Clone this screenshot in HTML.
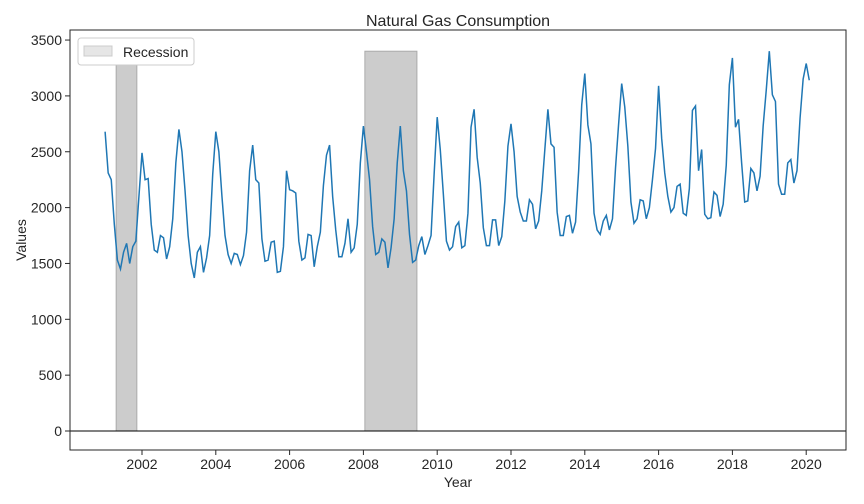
<!DOCTYPE html>
<html><head><meta charset="utf-8"><style>
body{margin:0;background:#fff;}
svg{display:block;font-family:"Liberation Sans",sans-serif;}
</style></head><body>
<svg id="chart" width="864" height="504"></svg>
<script>
const years=[2002,2004,2006,2008,2010,2012,2014,2016,2018,2020];
const yTicks=[0,500,1000,1500,2000,2500,3000,3500];
const startYear=2001;
const recessions=[[2001.30,2001.86],[2008.04,2009.45]];
const recessionTop=3400;
const values=[
2680,2310,2250,1850,1530,1450,1600,1680,1500,1650,1700,2100,
2490,2250,2260,1850,1620,1600,1750,1730,1540,1650,1900,2400,
2700,2500,2150,1750,1500,1370,1600,1650,1420,1550,1750,2300,
2680,2500,2100,1750,1580,1500,1590,1580,1490,1570,1780,2330,
2560,2250,2220,1720,1520,1530,1690,1700,1420,1430,1650,2330,
2160,2150,2130,1700,1530,1550,1760,1750,1470,1650,1780,2200,
2470,2560,2100,1800,1560,1560,1680,1900,1600,1640,1850,2400,
2730,2500,2250,1830,1580,1600,1720,1690,1460,1640,1900,2400,
2730,2330,2150,1760,1510,1530,1660,1740,1580,1660,1750,2300,
2810,2520,2120,1700,1620,1650,1830,1870,1640,1660,1950,2720,
2880,2450,2220,1820,1660,1660,1890,1890,1660,1740,2060,2550,
2750,2500,2100,1960,1880,1880,2070,2030,1810,1880,2150,2520,
2880,2570,2540,1960,1750,1750,1920,1930,1770,1870,2330,2920,
3200,2740,2570,1950,1800,1760,1880,1930,1800,1900,2360,2750,
3110,2900,2550,2050,1860,1900,2070,2060,1900,2000,2250,2530,
3090,2620,2310,2100,1960,2000,2190,2210,1950,1930,2170,2870,
2910,2330,2520,1940,1900,1910,2140,2110,1920,2030,2380,3100,
3340,2720,2790,2400,2050,2060,2350,2310,2150,2280,2730,3050,
3400,3010,2950,2210,2120,2120,2400,2430,2220,2330,2800,3150,
3290,3140];
const L=70,R=846,T=30,B=450;
const x=t=>105.1+(t-2001)*36.9;
const y=v=>431-v*0.1117;
const NS="http://www.w3.org/2000/svg";
const svg=document.getElementById('chart');
function mk(tag,attrs,parent){const e=document.createElementNS(NS,tag);for(const k in attrs)e.setAttribute(k,attrs[k]);(parent||svg).appendChild(e);return e;}
recessions.forEach(r=>{
const e=mk('rect',{x:x(r[0]),y:y(recessionTop),width:x(r[1])-x(r[0]),height:y(0)-y(recessionTop),fill:'#cccccc',stroke:'#aaaaaa','stroke-width':1});


});
const z=mk('line',{x1:L,x2:R,y1:y(0),y2:y(0),stroke:'#000','stroke-width':1});


const pts=values.map((v,i)=>x(startYear+i/12).toFixed(2)+','+y(v).toFixed(2)).join(' ');
const pl=mk('polyline',{points:pts,fill:'none',stroke:'#1f77b4','stroke-width':1.5});


const fr=mk('rect',{x:L,y:T,width:R-L,height:B-T,fill:'none',stroke:'#262626','stroke-width':1});


years.forEach(yr=>{
mk('line',{x1:x(yr),x2:x(yr),y1:B,y2:B+5,stroke:'#262626'});
const t=mk('text',{x:x(yr),y:B+19,'text-anchor':'middle','font-size':14,fill:'#262626'});
t.textContent=yr;


});
yTicks.forEach(v=>{
mk('line',{x1:L-5,x2:L,y1:y(v),y2:y(v),stroke:'#262626'});
const t=mk('text',{x:L-8,y:y(v)+5,'text-anchor':'end','font-size':14,fill:'#262626'});
t.textContent=v;


});
</script>
<script>
(function(){
const svg=document.getElementById('chart');
svg.insertAdjacentHTML('beforeend',
'<text x="458" y="26" text-anchor="middle" font-size="16" fill="#262626">Natural Gas Consumption</text>'+
'<text x="458" y="487" text-anchor="middle" font-size="14" fill="#262626">Year</text>'+
'<text x="26" y="240" text-anchor="middle" font-size="14" fill="#262626" transform="rotate(-90 26 240)">Values</text>'+
'<g><rect x="78" y="38" width="116" height="27" rx="3" fill="#fff" stroke="#ccc"/>'+
'<rect x="84" y="46" width="28" height="10" fill="#e6e6e6" stroke="#ccc"/>'+
'<text x="123" y="57" font-size="14" fill="#262626">Recession</text></g>');
})();
</script>
</body></html>
